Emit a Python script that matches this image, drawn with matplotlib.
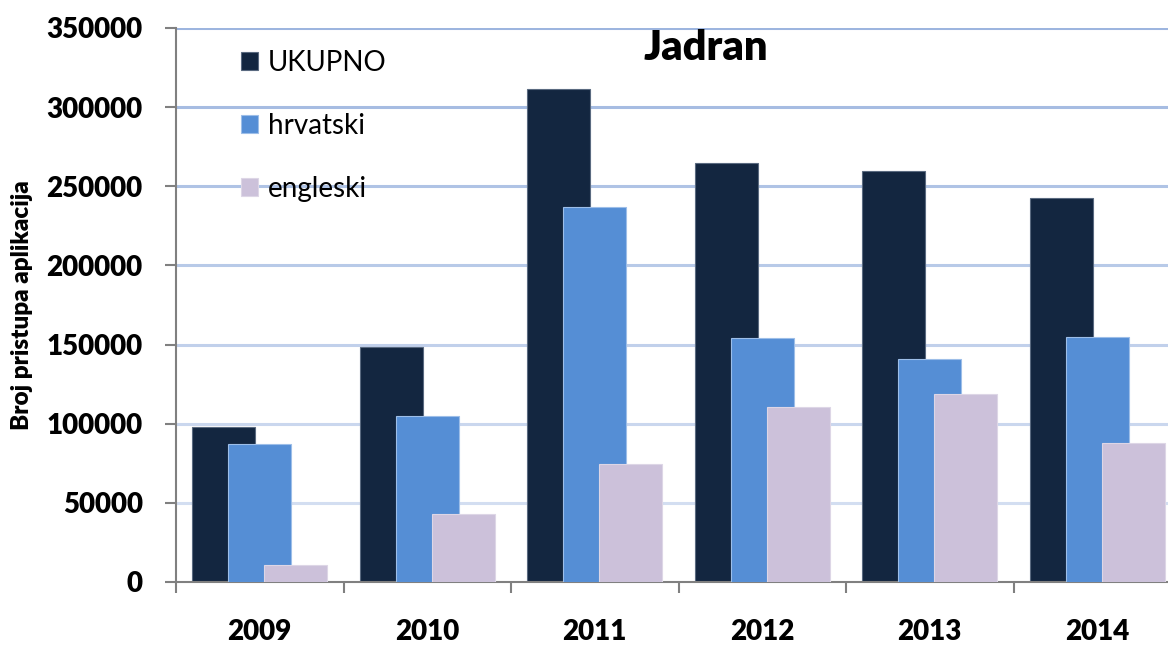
import numpy as np
import matplotlib
matplotlib.use('Agg')
import matplotlib.pyplot as plt
import matplotlib.colors as mcl

plt.rcParams['font.family'] = ['Lato', 'DejaVu Sans']

# values
years = ['2009', '2010', '2011', '2012', '2013', '2014']
ukupno = [98000, 148500, 311500, 265000, 259500, 242500]
hrvatski = [87000, 105000, 237000, 154000, 141000, 155000]
engleski = [11000, 43000, 74500, 110500, 118500, 88000]
series_names = ['UKUPNO', 'hrvatski', 'engleski']
y_ticks = [0, 50000, 100000, 150000, 200000, 250000, 300000, 350000]

colors = ['#132640', '#558ED5', '#CCC1DA']
edges = ['#5A6A80', '#9DBEE8', '#DDD6E6']

fig = plt.figure(figsize=(11.68, 6.46), dpi=100)
ax = fig.add_axes([176 / 1168, 64 / 646, 1005 / 1168, 554 / 646])

x = np.arange(len(years))
w = 0.376
off = 0.216

# gridlines, darker at the top, fading downwards
grid_cols = [mcl.to_hex(c) for c in
             np.linspace(mcl.to_rgb('#DCE5F4'), mcl.to_rgb('#9DB5DF'), len(y_ticks))]
for yv, gc in zip(y_ticks[1:], grid_cols[1:]):
    ax.axhline(yv, color=gc, lw=2.2, zorder=0)

data = [ukupno, hrvatski, engleski]
for i, (vals, name) in enumerate(zip(data, series_names)):
    ax.bar(x + (i - 1) * off, vals, width=w, color=colors[i],
           edgecolor=edges[i], linewidth=0.8, label=name, zorder=2 + i)

ax.set_xlim(-0.5, len(years) - 0.5)
ax.set_ylim(0, 350000)
ax.set_yticks(y_ticks)
ax.set_yticklabels([str(v) for v in y_ticks], fontsize=20, fontweight='heavy')
ax.set_xticks(x)
ax.set_xticklabels(years, fontsize=20, fontweight='heavy')
ax.set_xticks(np.arange(len(years) + 1) - 0.5, minor=True)

ax.tick_params(axis='y', which='major', length=8, width=1.5, color='#808080', pad=16)
ax.tick_params(axis='x', which='major', length=0, pad=27)
ax.tick_params(axis='x', which='minor', length=8, width=1.5, color='#808080')

for s in ['top', 'right']:
    ax.spines[s].set_visible(False)
for s in ['left', 'bottom']:
    ax.spines[s].set_color('#808080')
    ax.spines[s].set_linewidth(1.5)

ax.set_ylabel('Broj pristupa aplikacija', fontsize=17.5, fontweight='heavy', labelpad=10)

ax.text(0.527, 0.963, 'Jadran', transform=ax.transAxes, ha='center', va='center',
        fontsize=30, fontweight='heavy')

leg = ax.legend(loc='upper left', bbox_to_anchor=(0.04, 1.005), frameon=False,
                fontsize=20, handlelength=0.62, handleheight=0.62,
                handletextpad=0.35, labelspacing=1.33)

fig.savefig('out.png', dpi=100)
